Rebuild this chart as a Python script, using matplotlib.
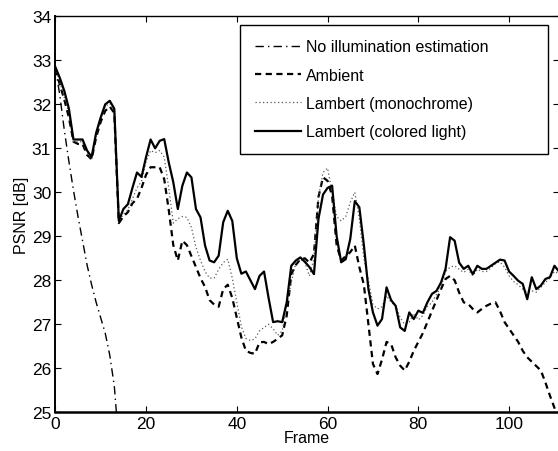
import matplotlib
matplotlib.use("Agg")
import matplotlib.pyplot as plt

plt.rcParams['font.family'] = ['Liberation Sans', 'DejaVu Sans']

# ---------------------------------------------------------------------------
# Data (PSNR in dB per frame)
# ---------------------------------------------------------------------------
frames_none = list(range(0, 15))
psnr_none = [32.85, 32.2, 31.4, 30.7, 30.05, 29.45, 28.9, 28.35, 27.9, 27.5,
             27.15, 26.8, 26.3, 25.6, 24.3]

frames = list(range(0, 112))

psnr_ambient = [
    32.8, 32.45, 32.1, 31.7, 31.15, 31.1, 31.1, 30.85, 30.75, 31.25,
    31.6, 31.85, 31.95, 31.8, 29.3, 29.45, 29.55, 29.75, 29.85, 30.1,
    30.4, 30.57, 30.57, 30.57, 30.3, 29.6, 28.8, 28.45, 28.9, 28.8,
    28.55, 28.3, 28.05, 27.85, 27.55, 27.45, 27.4, 27.8, 27.9, 27.6,
    27.15, 26.7, 26.4, 26.35, 26.33, 26.59, 26.6, 26.55, 26.6, 26.67,
    26.75, 27.2, 28.14, 28.35, 28.48, 28.5, 28.4, 28.6, 29.9, 30.34,
    30.26, 29.92, 28.8, 28.45, 28.55, 28.64, 28.79, 28.3, 27.9, 27.0,
    26.1, 25.87, 26.2, 26.6, 26.55, 26.25, 26.06, 25.95, 26.15, 26.4,
    26.6, 26.8, 27.05, 27.3, 27.55, 27.8, 28.03, 28.1, 28.0, 27.72,
    27.5, 27.46, 27.35, 27.27, 27.35, 27.42, 27.47, 27.5, 27.3, 27.05,
    26.9, 26.75, 26.6, 26.4, 26.25, 26.15, 26.05, 25.95, 25.68, 25.38,
    25.1, 24.8,
]

psnr_mono = [
    32.82, 32.5, 32.15, 31.8, 31.15, 31.15, 31.15, 30.9, 30.75, 31.3,
    31.65, 31.95, 32.02, 31.85, 29.35, 29.5, 29.6, 29.85, 30.1, 30.25,
    30.7, 30.95, 30.9, 30.95, 30.8, 30.1, 29.3, 29.4, 29.45, 29.43,
    29.2, 28.75, 28.45, 28.2, 28.05, 28.05, 28.25, 28.4, 28.48, 28.05,
    27.5, 26.95, 26.68, 26.63, 26.67, 26.85, 26.93, 27.0, 26.9, 26.75,
    26.85, 27.45, 27.95, 28.4, 28.48, 28.4, 28.1, 28.5, 29.9, 30.45,
    30.55, 30.0, 29.45, 29.35, 29.45, 29.77, 30.0, 29.4, 28.5, 28.0,
    27.45, 27.35, 27.4, 27.65, 27.5, 27.42, 27.15, 27.0, 27.05, 27.25,
    27.1, 27.2, 27.4, 27.5, 27.68, 27.85, 28.2, 28.3, 28.33, 28.25,
    28.18, 28.25, 28.1, 28.25, 28.2, 28.2, 28.28, 28.38, 28.42, 28.3,
    28.1, 27.97, 27.9, 27.8, 27.73, 27.76, 27.73, 27.84, 27.95, 28.05,
    28.2, 28.15,
]

psnr_colored = [
    32.85, 32.6, 32.3, 31.9, 31.2, 31.2, 31.2, 30.95, 30.8, 31.35,
    31.7, 32.0, 32.08, 31.9, 29.35, 29.62, 29.73, 30.1, 30.45, 30.35,
    30.8, 31.2, 31.0, 31.17, 31.21, 30.68, 30.23, 29.62, 30.15, 30.45,
    30.34, 29.62, 29.43, 28.79, 28.45, 28.41, 28.56, 29.32, 29.58, 29.35,
    28.5, 28.15, 28.2, 28.0, 27.8, 28.1, 28.2, 27.6, 27.05, 27.07,
    27.05, 27.5, 28.33, 28.45, 28.52, 28.42, 28.3, 28.14, 29.4, 29.95,
    30.1, 30.15, 29.0, 28.41, 28.48, 28.94, 29.8, 29.66, 28.8, 27.8,
    27.27, 26.97, 27.12, 27.84, 27.55, 27.42, 26.93, 26.85, 27.27, 27.12,
    27.31, 27.26, 27.5, 27.69, 27.76, 27.95, 28.26, 28.98, 28.9, 28.4,
    28.26, 28.33, 28.14, 28.33, 28.26, 28.26, 28.33, 28.4, 28.47, 28.45,
    28.2, 28.1, 27.99, 27.92, 27.57, 28.07, 27.8, 27.88, 28.03, 28.07,
    28.33, 28.2,
]

LABELS = ['No illumination estimation', 'Ambient',
          'Lambert (monochrome)', 'Lambert (colored light)']

# ---------------------------------------------------------------------------
# Figure
# ---------------------------------------------------------------------------
fig = plt.figure(figsize=(5.58, 4.52), dpi=100)
ax = fig.add_axes([0.0991, 0.0856, 0.9027, 0.8761])

ax.plot(frames_none, psnr_none, color='black', lw=1.0,
        linestyle=(0, (6, 3, 1, 3)), label=LABELS[0])
ax.plot(frames, psnr_ambient, color='black', lw=1.6,
        linestyle=(0, (2.8, 2.0)), label=LABELS[1])
ax.plot(frames, psnr_mono, color='0.35', lw=0.9,
        linestyle=(0, (1, 2)), label=LABELS[2])
ax.plot(frames, psnr_colored, color='black', lw=1.6,
        linestyle='-', label=LABELS[3])

ax.set_xlim(0, 111)
ax.set_ylim(25, 34)
ax.set_xticks(range(0, 101, 20))
ax.set_yticks(range(25, 35))
ax.tick_params(direction='in', length=4, width=0.8, labelsize=12.5,
               top=True, right=True, pad=3)
for side, sp in ax.spines.items():
    sp.set_linewidth(1.0)
ax.spines['bottom'].set_linewidth(1.8)
ax.spines['left'].set_linewidth(1.4)

ax.set_xlabel('Frame', fontsize=11.5, labelpad=-1)
ax.set_ylabel('PSNR [dB]', fontsize=11.5, labelpad=2)

leg = ax.legend(loc='upper left', bbox_to_anchor=(0.367, 0.645, 0.611, 0.333),
                mode='expand', borderaxespad=0, fontsize=11.5,
                handlelength=2.9, handletextpad=0.35, labelspacing=0.83,
                borderpad=0.9, fancybox=False, framealpha=1)
leg.get_frame().set_edgecolor('black')
leg.get_frame().set_linewidth(1.0)

fig.savefig('out.png', dpi=100)
